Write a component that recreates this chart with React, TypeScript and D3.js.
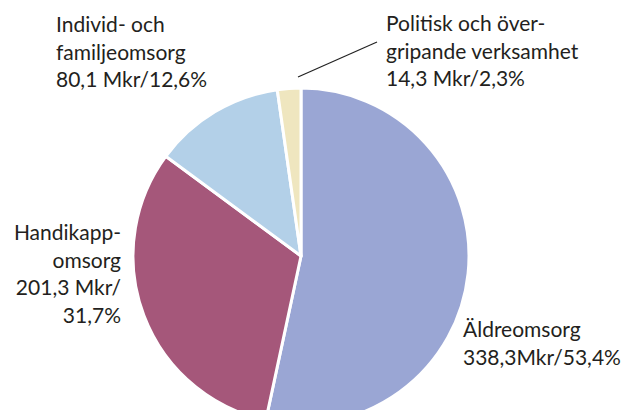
import React from "react";
import * as d3 from "d3";

const categories = ["Äldreomsorg", "Handikappomsorg", "Individ- och familjeomsorg", "Politisk och övergripande verksamhet"];
const values = [338.3, 201.3, 80.1, 14.3];
const colors = ["#9aa6d4", "#a5577a", "#b3d0e8", "#efe6bf"];
const labelLines = [
  ["Äldreomsorg", "338,3Mkr/53,4%"],
  ["Handikapp-", "omsorg", "201,3 Mkr/", "31,7%"],
  ["Individ- och", "familjeomsorg", "80,1 Mkr/12,6%"],
  ["Politisk och över-", "gripande verksamhet", "14,3 Mkr/2,3%"],
];

const W = 623, H = 410;
const cx = 301, cy = 256, R = 168;
const lineH = 27.5;
const labelPos: { x: number; y: number; anchor: "start" | "end" }[] = [
  { x: 463, y: 337, anchor: "start" },
  { x: 121, y: 240, anchor: "end" },
  { x: 56, y: 32, anchor: "start" },
  { x: 386, y: 31, anchor: "start" },
];

export default function App() {
  const pie = d3.pie<number>().sort(null).value((d) => d);
  const arcs = pie(values);
  const arc = d3.arc<d3.PieArcDatum<number>>().innerRadius(0).outerRadius(R);
  return (
    <svg width={W} height={H} style={{ position: "absolute", left: 0, top: 0, background: "#fff" }}>
      <g transform={`translate(${cx},${cy})`}>
        {arcs.map((a, i) => (
          <path key={categories[i]} d={arc(a) || ""} fill={colors[i]} stroke="#fff" strokeWidth={3} strokeLinejoin="round" />
        ))}
      </g>
      <line x1={298} y1={77} x2={377} y2={42} stroke="#222" strokeWidth={1.2} />
      {labelLines.map((lines, i) => (
        <text key={i} x={labelPos[i].x} y={labelPos[i].y} textAnchor={labelPos[i].anchor}
          fontFamily="Lato, sans-serif" fontSize={21} fill="#231f20">
          {lines.map((l, j) => (
            <tspan key={j} x={labelPos[i].x} y={labelPos[i].y + j * lineH}>{l}</tspan>
          ))}
        </text>
      ))}
    </svg>
  );
}
